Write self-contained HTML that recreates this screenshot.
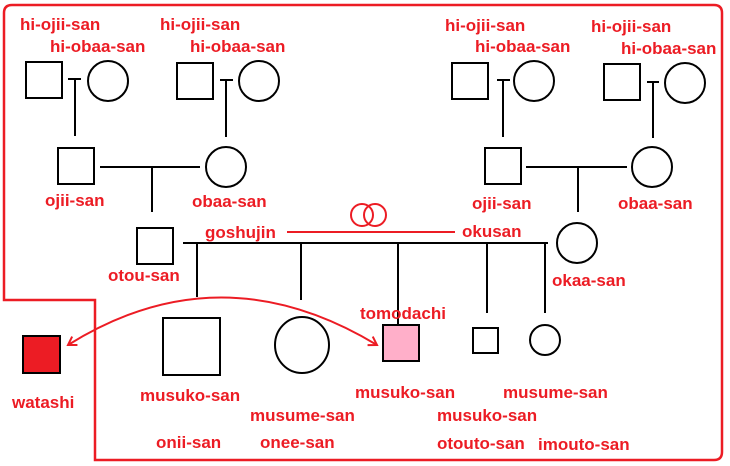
<!DOCTYPE html>
<html><head><meta charset="utf-8"><style>
html,body{margin:0;padding:0;background:#fff;}
svg{display:block;}
text{font-family:"Liberation Sans",Arial,sans-serif;font-weight:bold;font-size:17px;fill:#ec1c24;}
.b{font-size:17px;}
</style></head><body>
<svg width="730" height="466" viewBox="0 0 730 466" xmlns="http://www.w3.org/2000/svg">
<defs>
<marker id="ah" markerWidth="12" markerHeight="12" refX="9" refY="6" orient="auto" markerUnits="userSpaceOnUse">
<path d="M1,1 L9,6 L1,11" fill="none" stroke="#ec1c24" stroke-width="2"/>
</marker>
<marker id="ah2" markerWidth="12" markerHeight="12" refX="3" refY="6" orient="auto" markerUnits="userSpaceOnUse">
<path d="M11,1 L3,6 L11,11" fill="none" stroke="#ec1c24" stroke-width="2"/>
</marker>
</defs>
<path d="M4,300 L4,13 Q4,5 12,5 L714,5 Q722,5 722,13 L722,452 Q722,460 714,460 L95,460 L95,300 Z" fill="none" stroke="#ec1c24" stroke-width="2.5"/>
<g fill="none" stroke="#000" stroke-width="2">
<rect x="26" y="62" width="36" height="36"/><circle cx="108" cy="81" r="20"/>
<path d="M68,79 H81 M75,79 V136"/>
<rect x="177" y="63" width="36" height="36"/><circle cx="259" cy="81" r="20"/>
<path d="M220,80 H233 M226,80 V137"/>
<rect x="452" y="63" width="36" height="36"/><circle cx="534" cy="81" r="20"/>
<path d="M497,80 H510 M503,80 V137"/>
<rect x="604" y="64" width="36" height="36"/><circle cx="685" cy="83" r="20"/>
<path d="M647,82 H659 M653,82 V138"/>
<rect x="58" y="148" width="36" height="36"/><circle cx="226" cy="167" r="20"/>
<path d="M100,167 H200 M152,167 V212"/>
<rect x="485" y="148" width="36" height="36"/><circle cx="652" cy="167" r="20"/>
<path d="M526,167 H627 M578,167 V212"/>
<rect x="137" y="228" width="36" height="36"/>
<circle cx="577" cy="243" r="20"/>
<path d="M183,243 H548 M197,243 V297 M301,243 V300 M398,243 V330 M487,243 V313 M545,243 V313"/>
<rect x="163" y="318" width="57" height="57"/>
<ellipse cx="302" cy="345" rx="27" ry="28"/>
<rect x="473" y="328" width="25" height="25"/>
<circle cx="545" cy="340" r="15"/>
</g>
<rect x="23" y="336" width="37" height="37" fill="#ec1c24" stroke="#000" stroke-width="2"/>
<rect x="383" y="325" width="36" height="36" fill="#ffafc9" stroke="#000" stroke-width="2"/>
<g fill="none" stroke="#ec1c24" stroke-width="2">
<path d="M287,232 H455"/>
<circle cx="362" cy="215" r="11"/><circle cx="375" cy="215" r="11"/>
<path d="M68,345 Q220,250 377,345" marker-start="url(#ah2)" marker-end="url(#ah)"/>
</g>
<text x="20" y="30">hi-ojii-san</text>
<text x="50" y="52">hi-obaa-san</text>
<text x="160" y="30">hi-ojii-san</text>
<text x="190" y="52">hi-obaa-san</text>
<text x="445" y="31">hi-ojii-san</text>
<text x="475" y="52">hi-obaa-san</text>
<text x="591" y="32">hi-ojii-san</text>
<text x="621" y="54">hi-obaa-san</text>
<text x="45" y="206">ojii-san</text>
<text x="192" y="207">obaa-san</text>
<text x="472" y="209">ojii-san</text>
<text x="618" y="209">obaa-san</text>
<text x="205" y="238">goshujin</text>
<text x="462" y="237">okusan</text>
<text x="108" y="281">otou-san</text>
<text x="552" y="286">okaa-san</text>
<text x="360" y="319">tomodachi</text>
<text x="12" y="408">watashi</text>
<text class="b" x="140" y="401">musuko-san</text>
<text class="b" x="250" y="421">musume-san</text>
<text class="b" x="156" y="448">onii-san</text>
<text class="b" x="260" y="448">onee-san</text>
<text class="b" x="355" y="398">musuko-san</text>
<text class="b" x="503" y="398">musume-san</text>
<text class="b" x="437" y="421">musuko-san</text>
<text class="b" x="437" y="449">otouto-san</text>
<text class="b" x="538" y="450">imouto-san</text>
</svg>
</body></html>
